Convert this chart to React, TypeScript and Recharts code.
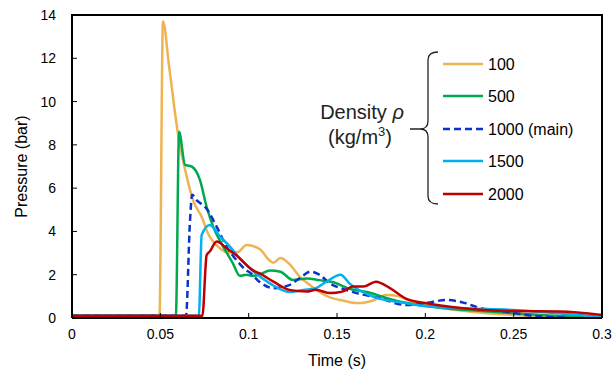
import { LineChart, Line, XAxis, YAxis, Label } from "recharts";

// time (s) / pressure (bar) for each density run
const t100 = [0, 0.0495, 0.0515, 0.055, 0.06, 0.065, 0.0685, 0.0735, 0.077, 0.084, 0.0895, 0.094, 0.0988, 0.106, 0.112, 0.114, 0.118, 0.123, 0.129, 0.135, 0.14, 0.146, 0.152, 0.158, 0.163, 0.17, 0.178, 0.185, 0.19, 0.2, 0.21, 0.22, 0.235, 0.25, 0.265, 0.28];
const p100 = [0.1, 0.1, 13.7, 11.6, 8.5, 6.5, 5.45, 4.65, 3.9, 3.2, 3.0, 3.05, 3.37, 3.2, 2.65, 2.55, 2.77, 2.5, 1.9, 1.5, 1.2, 0.95, 0.83, 0.72, 0.69, 0.8, 1.06, 1.0, 0.83, 0.6, 0.45, 0.35, 0.22, 0.14, 0.08, 0.05];

const t500 = [0, 0.0588, 0.0606, 0.064, 0.0677, 0.0724, 0.0762, 0.08, 0.0856, 0.091, 0.095, 0.0988, 0.102, 0.106, 0.112, 0.118, 0.125, 0.133, 0.14, 0.148, 0.157, 0.167, 0.177, 0.186, 0.2, 0.215, 0.23, 0.25, 0.27, 0.29];
const p500 = [0.1, 0.1, 8.6, 7.07, 7.0, 6.38, 5.14, 4.2, 3.3, 2.54, 1.95, 2.0, 1.95, 2.0, 2.2, 2.14, 1.76, 1.83, 1.75, 1.65, 1.35, 1.2, 0.95, 0.75, 0.55, 0.42, 0.33, 0.22, 0.12, 0.05];

const t1000 = [0, 0.0645, 0.0668, 0.068, 0.0705, 0.076, 0.082, 0.0875, 0.093, 0.0988, 0.1007, 0.106, 0.114, 0.123, 0.129, 0.135, 0.14, 0.146, 0.155, 0.161, 0.174, 0.189, 0.2, 0.212, 0.222, 0.231, 0.245, 0.261, 0.28];
const p1000 = [0.1, 0.1, 4.5, 5.7, 5.45, 5.07, 4.2, 3.3, 2.68, 2.2, 2.1, 1.68, 1.38, 1.52, 1.85, 2.14, 2.0, 1.6, 1.3, 1.15, 0.92, 0.6, 0.69, 0.83, 0.7, 0.46, 0.3, 0.1, 0.02];

const t1500 = [0, 0.0718, 0.0734, 0.078, 0.0838, 0.0894, 0.095, 0.102, 0.112, 0.123, 0.131, 0.138, 0.144, 0.152, 0.157, 0.17, 0.189, 0.2, 0.22, 0.25, 0.275, 0.3];
const p1500 = [0.1, 0.1, 3.84, 4.3, 3.76, 3.3, 2.75, 2.2, 1.6, 1.2, 1.3, 1.38, 1.68, 2.0, 1.6, 1.0, 0.69, 0.55, 0.45, 0.37, 0.22, 0.05];

const t2000 = [0, 0.0738, 0.0762, 0.078, 0.0819, 0.0875, 0.093, 0.1025, 0.106, 0.114, 0.123, 0.133, 0.138, 0.146, 0.153, 0.159, 0.165, 0.172, 0.18, 0.189, 0.2, 0.22, 0.25, 0.276, 0.3];
const p2000 = [0.1, 0.1, 2.9, 3.07, 3.53, 3.22, 2.9, 2.2, 2.07, 1.68, 1.3, 1.22, 1.3, 1.15, 1.22, 1.45, 1.45, 1.68, 1.38, 0.9, 0.69, 0.46, 0.32, 0.3, 0.14];

const xTicks = [0, 0.05, 0.1, 0.15, 0.2, 0.25, 0.3];
const yTicks = [0, 2, 4, 6, 8, 10, 12, 14];

const toPoints = (t: number[], p: number[]) => t.map((x, i) => ({ t: x, p: p[i] }));

const series = [
  { name: "100", color: "#EFB352", dash: undefined, data: toPoints(t100, p100) },
  { name: "500", color: "#00A94F", dash: undefined, data: toPoints(t500, p500) },
  { name: "1000 (main)", color: "#0A33CC", dash: "7 4", data: toPoints(t1000, p1000) },
  { name: "1500", color: "#00B0F0", dash: undefined, data: toPoints(t1500, p1500) },
  { name: "2000", color: "#C00000", dash: undefined, data: toPoints(t2000, p2000) },
];

const FONT = "'Liberation Sans', Arial, sans-serif";
const tickStyle = { fontSize: 14, fill: "#000", fontFamily: FONT };
const frameLine = { stroke: "#000", strokeWidth: 2 };

function Overlay() {
  const rowY = [64, 96, 129, 161, 194];
  return (
    <svg width={614} height={374} style={{ position: "absolute", left: 0, top: 0, pointerEvents: "none", zIndex: 5 }}>
      {/* top and right edges of the plot frame */}
      <line x1={71} y1={15} x2={603} y2={15} stroke="#000" strokeWidth={2} />
      <line x1={602} y1={14} x2={602} y2={318} stroke="#000" strokeWidth={2} />
      <text x={362} y={119} textAnchor="middle" fontSize={20} fontFamily={FONT} fill="#222">
        Density <tspan fontStyle="italic">ρ</tspan>
      </text>
      <text x={360} y={144} textAnchor="middle" fontSize={20} fontFamily={FONT} fill="#222">
        (kg/m<tspan fontSize={13} dy={-8}>3</tspan><tspan dy={8}>)</tspan>
      </text>
      <path
        d="M438 52 Q428 52 428 60 L428 121 Q428 129 420 129 L410 129 M420 129 Q428 129 428 137 L428 196 Q428 204 438 204"
        fill="none"
        stroke="#222"
        strokeWidth={1.3}
      />
      {series.map((s, i) => (
        <g key={s.name}>
          <line x1={443} x2={483} y1={rowY[i]} y2={rowY[i]} stroke={s.color} strokeWidth={2.5} strokeDasharray={s.dash} />
          <text x={488} y={rowY[i] + 6} fontSize={16} fontFamily={FONT} fill="#000">
            {s.name}
          </text>
        </g>
      ))}
    </svg>
  );
}

export default function App() {
  return (
    <div style={{ position: "absolute", left: 0, top: 0, width: 614, height: 374, background: "#fff" }}>
      <LineChart width={614} height={374} margin={{ top: 15, right: 12, left: 0, bottom: 0 }}>
        <XAxis
          dataKey="t"
          type="number"
          domain={[0, 0.3]}
          ticks={xTicks}
          allowDataOverflow
          height={56}
          tick={tickStyle}
          tickSize={-5}
          tickMargin={16}
          axisLine={frameLine}
          tickLine={{ stroke: "#000", strokeWidth: 1 }}
        >
          <Label value="Time (s)" position="insideBottom" offset={8} style={{ fontSize: 16, fill: "#000", fontFamily: FONT }} />
        </XAxis>
        <YAxis
          type="number"
          domain={[0, 14]}
          ticks={yTicks}
          width={72}
          tick={tickStyle}
          tickSize={-5}
          tickMargin={21}
          axisLine={frameLine}
          tickLine={{ stroke: "#000", strokeWidth: 1 }}
        >
          <Label
            content={({ viewBox }: any) => {
              const cx = viewBox.x + 21;
              const cy = viewBox.y + viewBox.height / 2;
              return (
                <text x={cx} y={cy} transform={`rotate(-90 ${cx} ${cy})`} textAnchor="middle" dominantBaseline="central" fontSize={16} fontFamily={FONT} fill="#000">
                  Pressure (bar)
                </text>
              );
            }}
          />
        </YAxis>
        {series.map((s) => (
          <Line
            key={s.name}
            data={s.data}
            dataKey="p"
            type="monotone"
            stroke={s.color}
            strokeWidth={2.5}
            strokeDasharray={s.dash}
            dot={false}
            isAnimationActive={false}
          />
        ))}
      </LineChart>
      <Overlay />
    </div>
  );
}
